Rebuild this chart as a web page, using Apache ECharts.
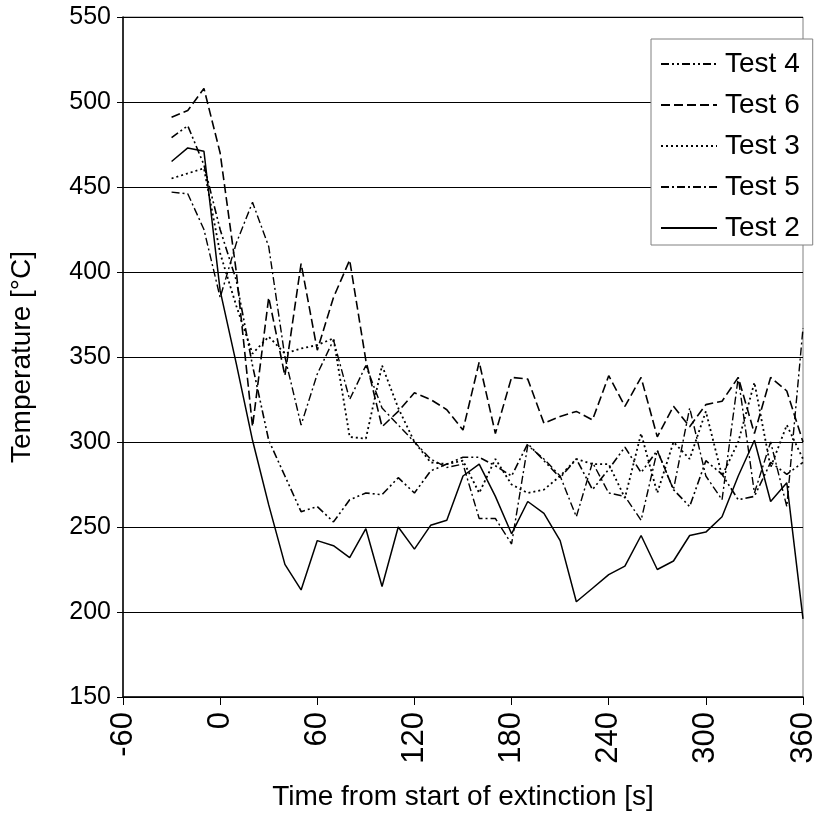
<!DOCTYPE html>
<html>
<head>
<meta charset="utf-8">
<script src="https://cdn.jsdelivr.net/npm/echarts@6/dist/echarts.min.js"></script>
<style>
html,body{margin:0;padding:0;background:#fff;}
#chart{width:814px;height:816px;}
</style>
</head>
<body>
<div id="chart"></div>
<script>
// Time axis (s) for each sample
var times = [-30,-20,-10,0,10,20,30,40,50,60,70,80,90,100,110,120,130,140,150,160,170,180,190,200,210,220,230,240,250,260,270,280,290,300,310,320,330,340,350,360];

var test4 = [479,486,463,425,395,345,301,280,259,262,253,266,270,269,279,270,283,287,291,291,286,280,299,289,279,290,272,284,297,282,295,272,262,289,281,266,268,288,281,288];
var test6 = [491,495,508,470,400,309,385,339,405,354,385,407,348,309,318,329,325,319,307,347,305,338,337,311,315,318,313,339,321,338,303,321,309,322,324,338,305,338,330,300];
var test3 = [455,458,461,411,380,352,362,352,355,357,361,303,302,345,320,300,288,287,289,270,290,275,270,272,280,290,287,287,267,305,270,300,290,318,280,300,335,285,310,290];
var test5 = [447,446,425,385,417,441,415,350,310,340,360,325,345,320,310,300,290,285,287,255,255,240,298,290,280,256,288,270,268,254,295,272,320,280,266,338,270,300,262,367];
var test2 = [465,473,471,389,346,301,263,228,213,242,239,232,249,215,250,237,251,254,280,287,268,246,265,258,242,206,214,222,227,245,225,230,245,247,256,280,301,265,276,196];

var xTicks = [-60,0,60,120,180,240,300,360];
var yTicks = [150,200,250,300,350,400,450,500,550];

function pairs(vals){ return times.map(function(t,i){ return [t, vals[i]]; }); }

var FONT = '"Liberation Sans", Arial, sans-serif';

function mk(name, vals, type, width){
  return {
    name: name, type: 'line', data: pairs(vals), symbol: 'none', showSymbol: false,
    lineStyle: {color: '#000', width: width, type: type},
    itemStyle: {color: '#000'},
    emphasis: {disabled: true}, animation: false
  };
}

var chart = echarts.init(document.getElementById('chart'), null, {renderer: 'canvas'});
chart.setOption({
  animation: false,
  backgroundColor: '#fff',
  grid: {left: 123, right: 11, top: 17, bottom: 119, containLabel: false, outerBoundsMode: 'none',
         show: true, borderColor: '#808080', borderWidth: 1, backgroundColor: 'transparent'},
  xAxis: {
    type: 'value', min: xTicks[0], max: xTicks[xTicks.length-1], interval: 60,
    name: 'Time from start of extinction [s]', nameLocation: 'middle', nameGap: 86,
    nameTextStyle: {fontFamily: FONT, fontSize: 28, color: '#000'},
    axisLine: {show: true, onZero: false, lineStyle: {color: '#000', width: 1.5}},
    axisTick: {show: true, inside: false, length: 8, lineStyle: {color: '#000'}},
    axisLabel: {rotate: 90, margin: 15, fontFamily: FONT, fontSize: 31, color: '#000'},
    splitLine: {show: false}
  },
  yAxis: {
    type: 'value', min: yTicks[0], max: yTicks[yTicks.length-1], interval: 50,
    name: 'Temperature [°C]', nameLocation: 'middle', nameGap: 87, nameRotate: 90,
    nameTextStyle: {fontFamily: FONT, fontSize: 28, color: '#000'},
    axisLine: {show: true, onZero: false, lineStyle: {color: '#000', width: 1.5}},
    axisTick: {show: true, inside: false, length: 6, lineStyle: {color: '#000'}},
    axisLabel: {margin: 12, fontFamily: FONT, fontSize: 25, color: '#000'},
    splitLine: {show: true, lineStyle: {color: '#000', width: 1}}
  },
  legend: {
    orient: 'vertical', left: 651, top: 39, right: 'auto',
    data: ['Test 4','Test 6','Test 3','Test 5','Test 2'],
    itemWidth: 56, itemHeight: 14, itemGap: 13,
    padding: [11, 13, 3, 9],
    backgroundColor: '#fff', borderColor: '#808080', borderWidth: 1,
    itemStyle: {opacity: 0, borderWidth: 0},
    textStyle: {fontFamily: FONT, fontSize: 28, color: '#000', padding: [0,0,0,3]},
    selectedMode: false
  },
  series: [
    mk('Test 4', test4, [8,3,2,3,2,3], 1.6),
    mk('Test 6', test6, [9,4], 1.6),
    mk('Test 3', test3, [2,3], 1.8),
    mk('Test 5', test5, [8,3,2,3], 1.4),
    mk('Test 2', test2, 'solid', 1.5)
  ]
});
</script>
</body>
</html>
